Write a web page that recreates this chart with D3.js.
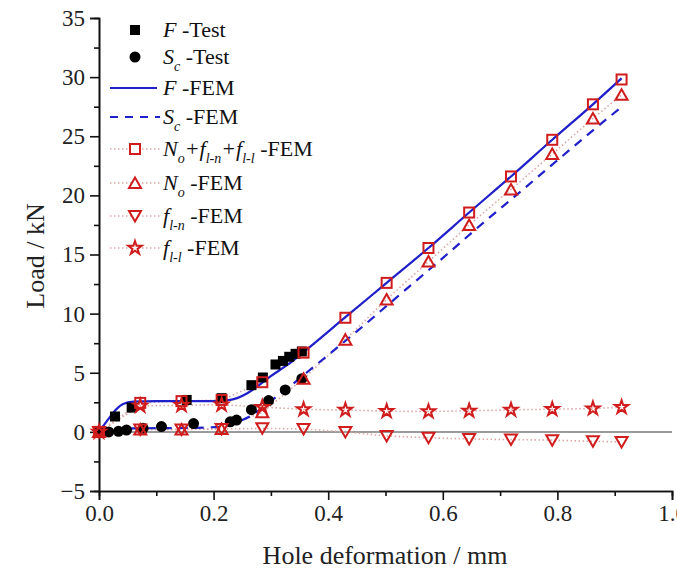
<!DOCTYPE html>
<html>
<head>
<meta charset="utf-8">
<script src="https://cdn.jsdelivr.net/npm/d3@7"></script>
<style>
  body { margin: 0; background: #fff; }
  svg { display: block; }
</style>
</head>
<body>
<div id="chart"></div>
<script>
// Test data
var fTestX = [0, 0.028, 0.057, 0.153, 0.214, 0.266, 0.286, 0.308, 0.321, 0.332, 0.343, 0.354];
var fTestY = [0, 1.3, 2.05, 2.7, 2.85, 3.95, 4.6, 5.7, 6.0, 6.35, 6.6, 6.8];
var scTestX = [0, 0.017, 0.034, 0.048, 0.077, 0.109, 0.165, 0.229, 0.24, 0.266, 0.296, 0.325, 0.354];
var scTestY = [0, 0, 0.05, 0.15, 0.3, 0.45, 0.7, 0.85, 1.0, 1.88, 2.65, 3.55, 4.5];

// FEM curves
var fFemX = [0, 0.015, 0.03, 0.042, 0.06, 0.1, 0.2, 0.229, 0.258, 0.275, 0.298, 0.33, 0.357, 0.43, 0.502, 0.575, 0.646, 0.719, 0.791, 0.862, 0.912];
var fFemY = [0, 1.0, 1.9, 2.35, 2.55, 2.6, 2.6, 2.7, 3.25, 3.8, 4.65, 5.7, 6.75, 9.7, 12.6, 15.55, 18.55, 21.6, 24.7, 27.7, 29.9];
var scFemX = [0, 0.02, 0.04, 0.07, 0.15, 0.19, 0.215, 0.234, 0.25, 0.263, 0.287, 0.31, 0.333, 0.362, 0.4, 0.45, 0.52, 0.607, 0.671, 0.723, 0.791, 0.862, 0.91];
var scFemY = [0, 0.15, 0.28, 0.3, 0.33, 0.38, 0.45, 0.7, 1.0, 1.3, 2.1, 3.0, 3.85, 5.0, 6.5, 8.5, 11.4, 15.0, 17.7, 19.8, 22.6, 25.5, 27.4];

// FEM components (markers)
var femX = [0, 0.072, 0.144, 0.214, 0.285, 0.357, 0.43, 0.502, 0.575, 0.646, 0.719, 0.791, 0.862, 0.912];
var sumY = [0, 2.45, 2.6, 2.7, 4.2, 6.7, 9.65, 12.6, 15.55, 18.55, 21.6, 24.7, 27.7, 29.8];
var noY = [0, 0.2, 0.2, 0.25, 1.65, 4.5, 7.8, 11.2, 14.4, 17.5, 20.5, 23.5, 26.5, 28.5];
var flnY = [0, 0.2, 0.2, 0.25, 0.3, 0.25, 0.0, -0.35, -0.5, -0.6, -0.65, -0.7, -0.8, -0.85];
var fllY = [0, 2.2, 2.25, 2.3, 2.1, 1.9, 1.85, 1.75, 1.72, 1.78, 1.86, 1.92, 1.97, 2.09];

var xTicks = [0, 0.2, 0.4, 0.6, 0.8, 1.0];
var yTicks = [-5, 0, 5, 10, 15, 20, 25, 30, 35];

var W = 677, H = 577;
var BLUE = '#1f1fcc', RED = '#d01c1c', DOT = '#dba7a7';
var SERIF = '"Liberation Serif", "Times New Roman", "DejaVu Serif", serif';

var x = d3.scaleLinear().domain([0, 1]).range([99, 672]);
var y = d3.scaleLinear().domain([-5, 35]).range([491, 18]);

var svg = d3.select('#chart').append('svg').attr('width', W).attr('height', H)
  .attr('font-family', SERIF);

function zip(xs, ys) { return xs.map(function (v, i) { return [v, ys[i]]; }); }

// zero line
svg.append('line').attr('x1', x(0)).attr('x2', x(1)).attr('y1', y(0)).attr('y2', y(0))
  .attr('stroke', '#7a7a7a').attr('stroke-width', 1.5);

// axes
svg.append('g').attr('transform', 'translate(0,' + y(-5) + ')')
  .call(d3.axisBottom(x).tickValues(xTicks).tickFormat(d3.format('.1f')).tickSize(9).tickPadding(5));
svg.append('g').attr('transform', 'translate(0,' + y(-5) + ')')
  .call(d3.axisBottom(x).tickValues(d3.range(0.1, 1, 0.2)).tickFormat('').tickSize(5));
svg.append('g').attr('transform', 'translate(' + x(0) + ',0)')
  .call(d3.axisLeft(y).tickValues(yTicks).tickSize(9).tickPadding(5));
svg.append('g').attr('transform', 'translate(' + x(0) + ',0)')
  .call(d3.axisLeft(y).tickValues(d3.range(-2.5, 35, 5)).tickFormat('').tickSize(5));
svg.selectAll('.domain').attr('stroke', '#111').attr('stroke-width', 1.6);
svg.selectAll('.tick line').attr('stroke', '#111').attr('stroke-width', 1.6);
svg.selectAll('.tick text').attr('font-size', 23).attr('fill', '#222').attr('font-family', SERIF);

// axis titles
svg.append('text').attr('x', 385).attr('y', 564).attr('text-anchor', 'middle').attr('font-family', SERIF)
  .attr('font-size', 26).attr('fill', '#222').text('Hole deformation / mm');
svg.append('text').attr('transform', 'translate(44,256) rotate(-90)').attr('text-anchor', 'middle').attr('font-family', SERIF)
  .attr('font-size', 26).attr('fill', '#222').text('Load / kN');

var line = d3.line().x(function (d) { return x(d[0]); }).y(function (d) { return y(d[1]); });
var smooth = d3.line().x(function (d) { return x(d[0]); }).y(function (d) { return y(d[1]); }).curve(d3.curveMonotoneX);

// dotted lines for FEM components
[sumY, noY, flnY, fllY].forEach(function (ys) {
  svg.append('path').datum(zip(femX, ys)).attr('d', line)
    .attr('fill', 'none').attr('stroke', DOT).attr('stroke-width', 1.6).attr('stroke-dasharray', '1.5,2.5');
});

// FEM curves
svg.append('path').datum(zip(fFemX, fFemY)).attr('d', smooth)
  .attr('fill', 'none').attr('stroke', BLUE).attr('stroke-width', 2.2);
svg.append('path').datum(zip(scFemX, scFemY)).attr('d', smooth)
  .attr('fill', 'none').attr('stroke', BLUE).attr('stroke-width', 2.2).attr('stroke-dasharray', '9,7');

// marker shapes
var triUp = 'M0,-5.5L6,5L-6,5Z';
var triDown = 'M0,5.5L6,-5L-6,-5Z';
var star = d3.symbol().type(d3.symbolStar).size(55)();

function markers(xs, ys, draw) {
  zip(xs, ys).forEach(function (p) {
    draw(svg.append('g').attr('transform', 'translate(' + x(p[0]) + ',' + y(p[1]) + ')'));
  });
}

// test markers
markers(fTestX, fTestY, function (g) { g.append('rect').attr('x', -5).attr('y', -5).attr('width', 10).attr('height', 10).attr('fill', '#000'); });
markers(scTestX, scTestY, function (g) { g.append('circle').attr('r', 5.5).attr('fill', '#000'); });

// FEM component markers
function redPath(d) { return function (g) { g.append('path').attr('d', d).attr('fill', 'none').attr('stroke', RED).attr('stroke-width', 2); }; }
var redSquare = function (g) { g.append('rect').attr('x', -5).attr('y', -5).attr('width', 10).attr('height', 10).attr('fill', 'none').attr('stroke', RED).attr('stroke-width', 2); };
markers(femX, fllY, redPath(star));
markers(femX, flnY, redPath(triDown));
markers(femX, noY, redPath(triUp));
markers(femX, sumY, redSquare);

// legend
var legend = svg.append('g').attr('font-size', 22).attr('fill', '#111').attr('font-family', SERIF);
var rows = [30, 57, 88, 117, 149, 183, 216, 248];
var mx = 135, tx = 163;

function legendText(yPos, parts) {
  var t = legend.append('text').attr('x', tx).attr('y', yPos + 7);
  parts.forEach(function (p) {
    var s = t.append('tspan').text(p.t);
    if (p.i) s.attr('font-style', 'italic');
    if (p.sub) s.attr('font-size', 14).attr('dy', 7);
    if (p.up) s.attr('dy', -7);
  });
}

var lg0 = legend.append('g').attr('transform', 'translate(' + mx + ',' + rows[0] + ')');
lg0.append('rect').attr('x', -5).attr('y', -5).attr('width', 10).attr('height', 10).attr('fill', '#000');
legendText(rows[0], [{ t: 'F', i: true }, { t: ' -Test' }]);

legend.append('circle').attr('cx', mx).attr('cy', rows[1]).attr('r', 5.5).attr('fill', '#000');
legendText(rows[1], [{ t: 'S', i: true }, { t: 'c', i: true, sub: true }, { t: ' -Test', up: true }]);

legend.append('line').attr('x1', 110).attr('x2', 157).attr('y1', rows[2]).attr('y2', rows[2])
  .attr('stroke', BLUE).attr('stroke-width', 2.2);
legendText(rows[2], [{ t: 'F', i: true }, { t: ' -FEM' }]);

legend.append('line').attr('x1', 110).attr('x2', 160).attr('y1', rows[3]).attr('y2', rows[3])
  .attr('stroke', BLUE).attr('stroke-width', 2.2).attr('stroke-dasharray', '8,7');
legendText(rows[3], [{ t: 'S', i: true }, { t: 'c', i: true, sub: true }, { t: ' -FEM', up: true }]);

function dotRow(yPos, draw) {
  legend.append('line').attr('x1', 110).attr('x2', 160).attr('y1', yPos).attr('y2', yPos)
    .attr('stroke', DOT).attr('stroke-width', 1.6).attr('stroke-dasharray', '1.5,2.5');
  draw(legend.append('g').attr('transform', 'translate(' + mx + ',' + yPos + ')'));
}
dotRow(rows[4], function (g) { g.append('rect').attr('x', -5).attr('y', -5).attr('width', 10).attr('height', 10).attr('fill', '#fff').attr('stroke', RED).attr('stroke-width', 2); });
legendText(rows[4], [{ t: 'N', i: true }, { t: 'o', i: true, sub: true }, { t: '+f', i: true, up: true },
  { t: 'l-n', i: true, sub: true }, { t: '+f', i: true, up: true }, { t: 'l-l', i: true, sub: true }, { t: ' -FEM', up: true }]);
dotRow(rows[5], function (g) { g.append('path').attr('d', triUp).attr('fill', '#fff').attr('stroke', RED).attr('stroke-width', 2); });
legendText(rows[5], [{ t: 'N', i: true }, { t: 'o', i: true, sub: true }, { t: ' -FEM', up: true }]);
dotRow(rows[6], function (g) { g.append('path').attr('d', triDown).attr('fill', '#fff').attr('stroke', RED).attr('stroke-width', 2); });
legendText(rows[6], [{ t: 'f', i: true }, { t: 'l-n', i: true, sub: true }, { t: ' -FEM', up: true }]);
dotRow(rows[7], function (g) { g.append('path').attr('d', star).attr('fill', '#fff').attr('stroke', RED).attr('stroke-width', 2); });
legendText(rows[7], [{ t: 'f', i: true }, { t: 'l-l', i: true, sub: true }, { t: ' -FEM', up: true }]);
</script>
</body>
</html>
